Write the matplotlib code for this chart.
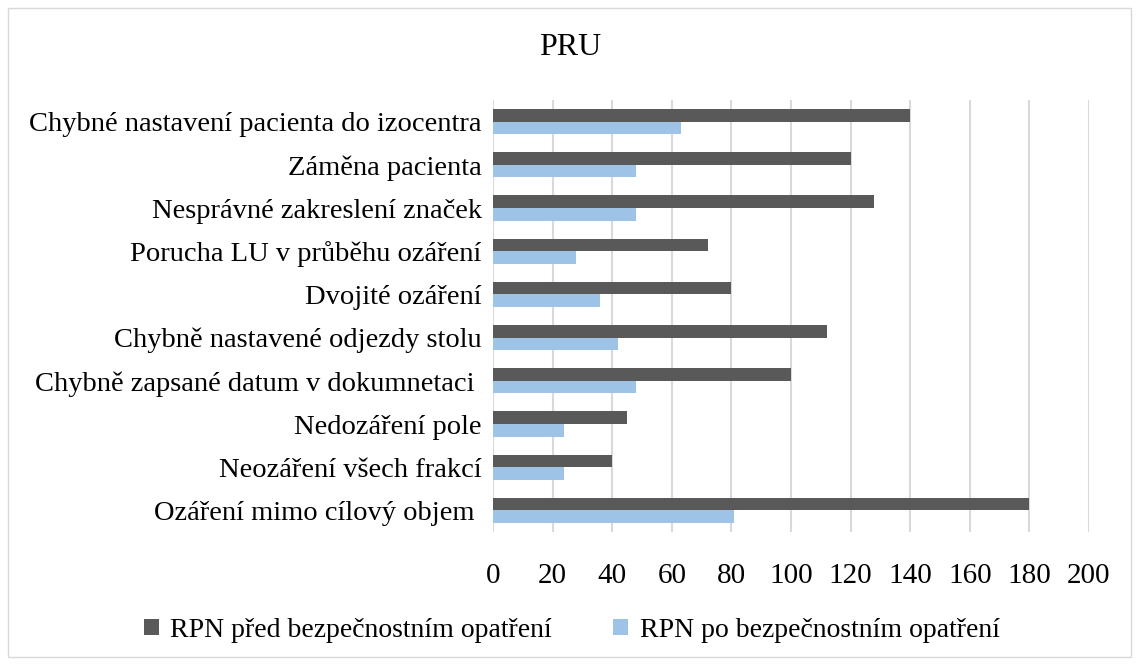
import numpy as np
import matplotlib.pyplot as plt
from matplotlib.patches import Rectangle

categories = [
    'Chybné nastavení pacienta do izocentra',
    'Záměna pacienta',
    'Nesprávné zakreslení značek',
    'Porucha LU v průběhu ozáření',
    'Dvojité ozáření',
    'Chybně nastavené odjezdy stolu',
    'Chybně zapsané datum v dokumnetaci ',
    'Nedozáření pole',
    'Neozáření všech frakcí',
    'Ozáření mimo cílový objem ',
]
rpn_pred = [140, 120, 128, 72, 80, 112, 100, 45, 40, 180]
rpn_po = [63, 48, 48, 28, 36, 42, 48, 24, 24, 81]

plt.rcParams['font.family'] = ['Liberation Serif', 'DejaVu Serif']

fig = plt.figure(figsize=(11.39, 6.65), dpi=100)
ax = fig.add_axes([0.4328, 0.2, 0.5233, 0.6496])

y = np.arange(len(categories))
h = 0.29
ax.barh(y - h / 2, rpn_pred, height=h, color='#595959',
        label='RPN před bezpečnostním opatření', zorder=3)
ax.barh(y + h / 2, rpn_po, height=h, color='#9dc3e6',
        label='RPN po bezpečnostním opatření', zorder=3)

ax.set_xlim(0, 200)
ax.set_ylim(len(categories) - 0.5, -0.5)
ax.set_xticks(np.arange(0, 201, 20))
ax.set_yticks(y)
ax.set_yticklabels(categories, fontsize=20.5)
ax.tick_params(axis='x', labelsize=21, length=0, pad=22)
ax.tick_params(axis='y', length=0, pad=8)
ax.grid(axis='x', color='#d9d9d9', linewidth=1.5, zorder=0)
for s in ax.spines.values():
    s.set_visible(False)

fig.text(0.501, 0.928, 'PRU', ha='center', va='center', fontsize=23)

fig.legend(loc='center', bbox_to_anchor=(0.502, 0.052), ncol=2, frameon=False,
           fontsize=20, handlelength=0.55, handleheight=0.55,
           handletextpad=0.4, columnspacing=2.2)

fig.patches.append(Rectangle((0.007, 0.012), 0.986, 0.976, transform=fig.transFigure,
                             fill=False, edgecolor='#d9d9d9', linewidth=1))

fig.savefig('out.png', dpi=100)
